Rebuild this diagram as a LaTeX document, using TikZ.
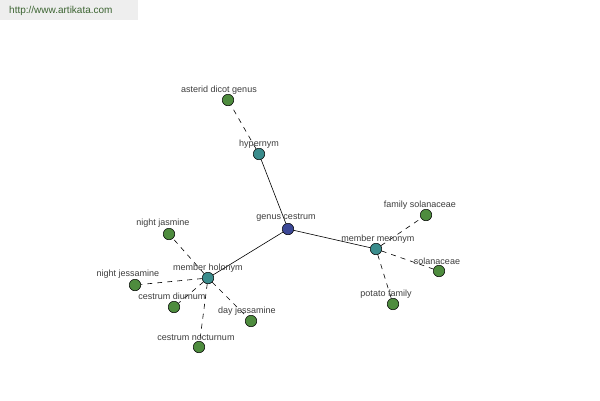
\documentclass[tikz,border=0pt]{standalone}
\usepackage{fontspec}
\setmainfont{Liberation Sans}
\definecolor{leafc}{RGB}{78,140,62}
\definecolor{midc}{RGB}{58,140,140}
\definecolor{rootc}{RGB}{60,72,150}
\definecolor{txtc}{RGB}{60,60,60}
\definecolor{wmbg}{RGB}{238,238,238}
\definecolor{wmtx}{RGB}{60,100,50}
\begin{document}
\begin{tikzpicture}[x=1pt,y=-1pt,
  dot/.style={circle,draw=black,line width=0.5pt,minimum size=11.5pt,inner sep=0pt},
  leaf/.style={dot,fill=leafc},
  mid/.style={dot,fill=midc},
  root/.style={dot,fill=rootc},
  lbl/.style={font=\fontsize{9pt}{10pt}\selectfont,text=txtc,inner sep=0pt},
  solid link/.style={draw=black,line width=0.6pt},
  dash link/.style={draw=black,line width=0.6pt,dash pattern=on 5pt off 5pt}]
\useasboundingbox (0,0) rectangle (600,400);
\fill[wmbg] (0,0) rectangle (138,20);
\node[lbl,anchor=west,text=wmtx,font=\fontsize{10pt}{11pt}\selectfont] (wm) at (9,11) {http://www.artikata.com};
% nodes
\node[root] (gc) at (288,229) {};
\node[mid] (hy) at (259,154) {};
\node[leaf] (adg) at (228,100) {};
\node[mid] (mm) at (376,249) {};
\node[leaf] (fs) at (426,215) {};
\node[leaf] (so) at (439,271) {};
\node[leaf] (pf) at (393,304) {};
\node[mid] (mh) at (208,278) {};
\node[leaf] (nja) at (169,234) {};
\node[leaf] (nje) at (135,285) {};
\node[leaf] (cd) at (174,307) {};
\node[leaf] (dj) at (251,321) {};
\node[leaf] (cn) at (199,347) {};
% connectors
\path[solid link] (gc) -- (hy);
\path[solid link] (gc) -- (mm);
\path[solid link] (gc) -- (mh);
\path[dash link] (hy) -- (adg);
\path[dash link] (mm) -- (fs);
\path[dash link] (mm) -- (so);
\path[dash link] (mm) -- (pf);
\path[dash link] (mh) -- (nja);
\path[dash link] (mh) -- (nje);
\path[dash link] (mh) -- (cd);
\path[dash link] (mh) -- (dj);
\path[dash link] (mh) -- (cn);
% labels
\node[lbl] (l-gc) at (286,217.5) {genus cestrum};
\node[lbl] (l-hy) at (259,144.5) {hypernym};
\node[lbl] (l-adg) at (219,90.5) {asterid dicot genus};
\node[lbl] (l-mm) at (378,239.5) {member meronym};
\node[lbl] (l-fs) at (420,205.5) {family solanaceae};
\node[lbl] (l-so) at (437,261.5) {solanaceae};
\node[lbl] (l-pf) at (386,294.5) {potato family};
\node[lbl] (l-mh) at (208,268.5) {member holonym};
\node[lbl] (l-nja) at (163,223.5) {night jasmine};
\node[lbl] (l-nje) at (128,274.5) {night jessamine};
\node[lbl] (l-cd) at (172,296.5) {cestrum diurnum};
\node[lbl] (l-dj) at (247,311.5) {day jessamine};
\node[lbl] (l-cn) at (196,337.5) {cestrum nocturnum};
\end{tikzpicture}
\end{document}
